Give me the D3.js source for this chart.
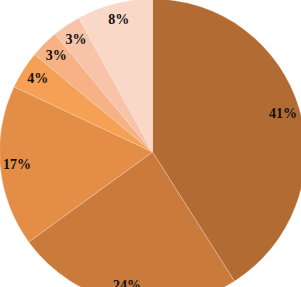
<!DOCTYPE html>
<html>
<head>
<meta charset="utf-8">
<script src="https://cdn.jsdelivr.net/npm/d3@7"></script>
<style>
 html, body { margin: 0; padding: 0; background: #fff; overflow: hidden; }
</style>
</head>
<body>
<div id="chart"></div>
<script>
 //Slice values (percent), clockwise from 12 o'clock.
 var labels = ["41%", "24%", "17%", "4%", "3%", "3%", "8%"];
 var values = [41, 24, 17, 4, 3, 3, 8];
 var colors = ["#b16b33", "#ca7b3c", "#e48d47", "#f5a054", "#f6b184", "#f8c4a9", "#fad8c8"];

 var width = 301, height = 287;
 var cx = 152.5, cy = 152, radius = 153;
 var labelRadius = 136;

 var svg = d3.select("#chart").append("svg").attr("width", width).attr("height", height);
 var g = svg.append("g").attr("transform", "translate(" + cx + "," + cy + ")");

 var pie = d3.pie().sort(null).value(function(d) { return d; });
 var arcs = pie(values);

 var arc = d3.arc().innerRadius(0).outerRadius(radius);
 var labelArc = d3.arc().innerRadius(labelRadius).outerRadius(labelRadius);

 //Draw the slices.
 g.selectAll("path").data(arcs).enter().append("path")
  .attr("d", arc)
  .attr("fill", function(d, i) { return colors[i]; })
  .attr("stroke", "#fbe3d6")
  .attr("stroke-width", 0.3);

 //Draw the labels.
 g.selectAll("text").data(arcs).enter().append("text")
  .attr("transform", function(d) { return "translate(" + labelArc.centroid(d) + ")"; })
  .attr("text-anchor", "middle")
  .attr("dy", "0.3em")
  .style("font-family", "'Liberation Serif', 'Times New Roman', serif")
  .style("font-weight", "bold")
  .style("font-size", "14px")
  .attr("fill", "#111")
  .text(function(d, i) { return labels[i]; });
</script>
</body>
</html>
